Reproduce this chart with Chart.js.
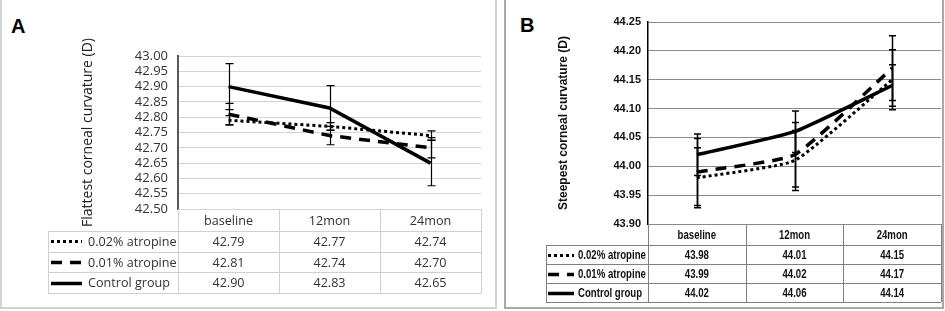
<!DOCTYPE html>
<html>
<head>
<meta charset="utf-8">
<script src="https://cdn.jsdelivr.net/npm/chart.js@4.4.1/dist/chart.umd.min.js"></script>
<style>
  body { margin: 0; background: #fff; width: 945px; height: 311px; position: relative; overflow: hidden; }
  .frame { position: absolute; top: -2px; box-sizing: border-box; }
  #frameA { left: 0; width: 497px; height: 311px; border: 2px solid #d2d2d2; }
  #frameB { left: 504px; width: 440px; height: 311px; border: 2px solid #a8a8a8; }
  .tag { position: absolute; font: bold 20px "Liberation Sans", Arial, sans-serif; line-height: 20px; color: #000; }
  canvas { position: absolute; top: 0; }
</style>
</head>
<body>
<div class="frame" id="frameA"></div>
<div class="frame" id="frameB"></div>
<div class="tag" style="left:11px;top:16px">A</div>
<div class="tag" style="left:520px;top:15px">B</div>
<canvas id="chartA" width="494" height="308" style="left:2px"></canvas>
<canvas id="chartB" width="437" height="308" style="left:505px"></canvas>
<script>
const categories = ['baseline', '12mon', '24mon'];
const seriesNames = ['0.02% atropine', '0.01% atropine', 'Control group'];

// panel A: flattest corneal curvature
const flat02 = [42.79, 42.77, 42.74];
const flat01 = [42.81, 42.74, 42.70];
const flatCtrl = [42.90, 42.83, 42.65];
const flatErr02 = [0.015, 0.012, 0.015];
const flatErr01 = [0.035, 0.030, 0.033];
const flatErrCtrl = [0.075, 0.073, 0.074];
const flatTicks = [42.50, 42.55, 42.60, 42.65, 42.70, 42.75, 42.80, 42.85, 42.90, 42.95, 43.00];

// panel B: steepest corneal curvature
const steep02 = [43.98, 44.01, 44.15];
const steep01 = [43.99, 44.02, 44.17];
const steepCtrl = [44.02, 44.06, 44.14];
const steepErr02 = [0.052, 0.052, 0.052];
const steepErr01 = [0.058, 0.056, 0.056];
const steepErrCtrl = [0.036, 0.036, 0.036];
const steepTicks = [43.90, 43.95, 44.00, 44.05, 44.10, 44.15, 44.20, 44.25];

const errorBars = {
  id: 'errorBars',
  afterDatasetsDraw(chart, args, o) {
    const ctx = chart.ctx, y = chart.scales.y;
    ctx.save();
    ctx.strokeStyle = '#000';
    ctx.lineWidth = o.width;
    chart.data.datasets.forEach((ds, di) => {
      chart.getDatasetMeta(di).data.forEach((pt, i) => {
        const v = ds.data[i], e = ds.errors[i];
        const x = Math.round(pt.x) + 0.5;
        const yt = y.getPixelForValue(v + e), yb = y.getPixelForValue(v - e);
        ctx.beginPath();
        ctx.moveTo(x, yt); ctx.lineTo(x, yb);
        ctx.moveTo(x - o.cap, yt); ctx.lineTo(x + o.cap, yt);
        ctx.moveTo(x - o.cap, yb); ctx.lineTo(x + o.cap, yb);
        ctx.stroke();
      });
    });
    ctx.restore();
  }
};

// data table under the plot (header = category labels), aligned on the x scale
const dataTable = {
  id: 'dataTable',
  afterDraw(chart, args, o) {
    const {ctx, chartArea: ca, scales: {x}} = chart;
    const n = chart.data.labels.length;
    const colW = (ca.right - ca.left) / n;
    const top = ca.bottom;
    const headBottom = top + o.headH;
    const dss = chart.data.datasets;
    const bottom = headBottom + dss.length * o.rowH;
    const px = v => Math.round(v) + 0.5;
    const text = (s, tx, ty, align) => {
      ctx.save();
      ctx.translate(tx, ty);
      ctx.scale(o.scaleX, 1);
      ctx.textAlign = align;
      ctx.fillText(s, 0, 0);
      ctx.restore();
    };
    ctx.save();
    ctx.strokeStyle = o.lineColor;
    ctx.lineWidth = 1;
    ctx.beginPath();
    for (let i = 0; i <= n; i++) {
      const xx = px(x.getPixelForValue(0) - colW / 2 + i * colW);
      ctx.moveTo(xx, top); ctx.lineTo(xx, bottom);
    }
    ctx.moveTo(px(o.legendLeft), headBottom); ctx.lineTo(px(o.legendLeft), bottom);
    for (let r = 0; r <= dss.length; r++) {
      const yy = px(headBottom + r * o.rowH);
      ctx.moveTo(o.legendLeft, yy); ctx.lineTo(ca.right, yy);
    }
    ctx.stroke();

    ctx.font = o.font;
    ctx.fillStyle = o.textColor;
    ctx.textBaseline = 'middle';
    chart.data.labels.forEach((lab, i) => text(lab, x.getPixelForValue(i), top + o.headH / 2 + 1, 'center'));
    dss.forEach((ds, r) => {
      const cy = headBottom + (r + 0.5) * o.rowH;
      ds.data.forEach((v, i) => text(v.toFixed(2), x.getPixelForValue(i), cy + 1, 'center'));
      text(ds.label, o.legendLeft + o.labelOffset, cy + 1, 'left');
      ctx.save();
      ctx.strokeStyle = '#000';
      ctx.lineWidth = ds.borderWidth;
      ctx.setLineDash(ds.borderDash || []);
      ctx.beginPath();
      ctx.moveTo(o.legendLeft + o.sampleStart, Math.round(cy) + 0.5);
      ctx.lineTo(o.legendLeft + o.sampleStart + o.sampleLen, Math.round(cy) + 0.5);
      ctx.stroke();
      ctx.restore();
    });
    ctx.restore();
  }
};

function makeSets(v02, v01, vc, e02, e01, ec, tension) {
  return [
    { label: seriesNames[0], data: v02, errors: e02, borderColor: '#000', borderWidth: 3, borderDash: [3, 3], pointRadius: 0, tension },
    { label: seriesNames[1], data: v01, errors: e01, borderColor: '#000', borderWidth: 3.5, borderDash: [11, 8], pointRadius: 0, tension },
    { label: seriesNames[2], data: vc, errors: ec, borderColor: '#000', borderWidth: 3.5, pointRadius: 0, tension }
  ];
}

const fontA = '"Open Sans", "Noto Sans", sans-serif';
new Chart(document.getElementById('chartA'), {
  type: 'line',
  data: { labels: categories, datasets: makeSets(flat02, flat01, flatCtrl, flatErr02, flatErr01, flatErrCtrl, 0) },
  plugins: [errorBars, dataTable],
  options: {
    responsive: false,
    animation: false,
    layout: { padding: { left: 0, right: 15, top: 56, bottom: 77 } },
    plugins: {
      legend: { display: false },
      tooltip: { enabled: false },
      errorBars: { width: 1.2, cap: 4 },
      dataTable: { headH: 22, rowH: 20.7, legendLeft: 46, labelOffset: 40, sampleStart: 3, sampleLen: 31,
        lineColor: '#d0d0d0', textColor: '#333', font: '13px ' + fontA, scaleX: 0.97 }
    },
    scales: {
      x: {
        offset: true,
        grid: { display: false },
        border: { display: false },
        ticks: { display: false },
        afterFit: s => { s.height = 22; }
      },
      y: {
        min: 42.5, max: 43.0,
        afterBuildTicks: s => { s.ticks = flatTicks.map(v => ({ value: v })); },
        grid: { color: '#d4d4d4', drawTicks: false },
        border: { color: '#595959', width: 2 },
        ticks: { autoSkip: false, color: '#333', font: { family: fontA, size: 13 }, padding: 10, callback: v => v.toFixed(2) },
        title: { display: true, text: 'Flattest corneal curvature (D)', color: '#222',
          font: { family: fontA, size: 14 }, padding: { top: 78, bottom: 0 } },
        afterFit: s => { s.width = 176; }
      }
    }
  }
});

const fontB = '"Liberation Sans", Arial, sans-serif';
new Chart(document.getElementById('chartB'), {
  type: 'line',
  data: { labels: categories, datasets: makeSets(steep02, steep01, steepCtrl, steepErr02, steepErr01, steepErrCtrl, 0.15) },
  plugins: [errorBars, dataTable],
  options: {
    responsive: false,
    animation: false,
    layout: { padding: { left: 0, right: 1, top: 22, bottom: 63 } },
    plugins: {
      legend: { display: false },
      tooltip: { enabled: false },
      errorBars: { width: 1.5, cap: 3.5 },
      dataTable: { headH: 21, rowH: 19, legendLeft: 41, labelOffset: 32, sampleStart: 2, sampleLen: 26,
        lineColor: '#808080', textColor: '#111', font: 'bold 13px ' + fontB, scaleX: 0.74 }
    },
    scales: {
      x: {
        offset: true,
        grid: { display: false },
        border: { display: false },
        ticks: { display: false },
        afterFit: s => { s.height = 21; }
      },
      y: {
        min: 43.9, max: 44.25,
        afterBuildTicks: s => { s.ticks = steepTicks.map(v => ({ value: v })); },
        grid: { color: '#8a8a8a', drawTicks: false },
        border: { color: '#000', width: 1.5 },
        ticks: { autoSkip: false, color: '#111', font: { family: fontB, size: 11, weight: 'bold' }, padding: 7, callback: v => v.toFixed(2) },
        title: { display: true, text: 'Steepest corneal curvature (D)', color: '#111',
          font: { family: fontB, size: 12, weight: 'bold' }, padding: { top: 51, bottom: 0 } },
        afterFit: s => { s.width = 143; }
      }
    }
  }
});
</script>
</body>
</html>
